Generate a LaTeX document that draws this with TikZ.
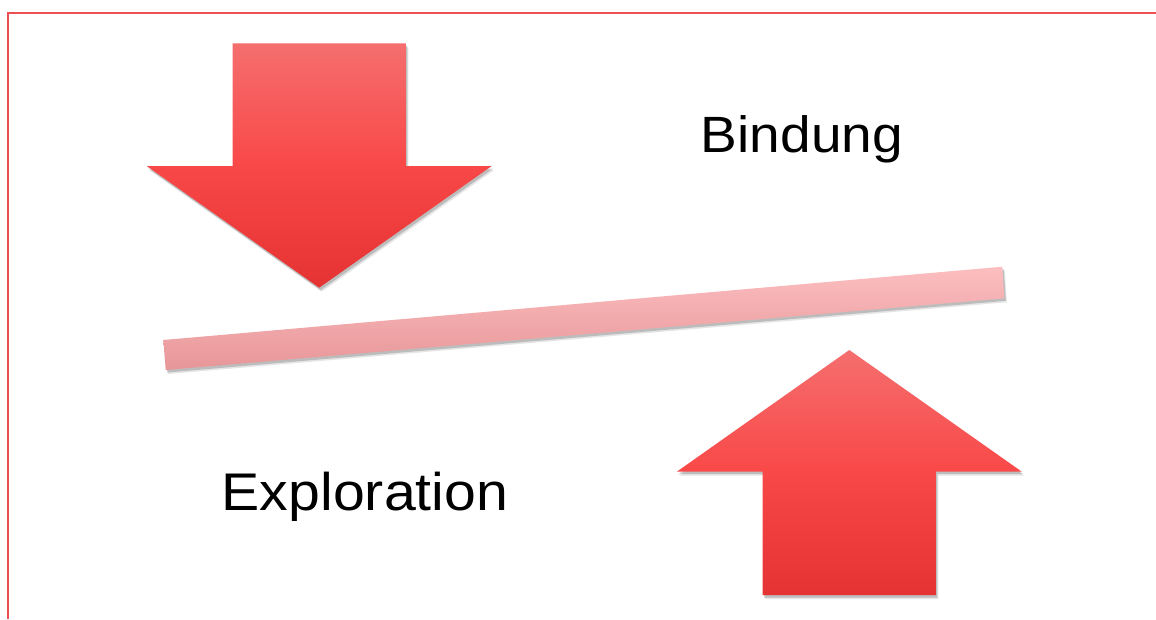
\documentclass[tikz,border=0pt]{standalone}
\usepackage{fontspec}
\newfontfamily\labelfont[FakeStretch=1.08]{Liberation Sans}
\usetikzlibrary{shadows}

\definecolor{framered}{RGB}{238,80,82}
\definecolor{arrowtop}{RGB}{245,110,110}
\definecolor{arrowmid}{RGB}{249,72,72}
\definecolor{arrowbot}{RGB}{229,50,50}
\definecolor{bartop}{RGB}{252,190,192}
\definecolor{barbot}{RGB}{231,150,152}

\tikzset{
  softshadow/.style={drop shadow={shadow xshift=1.5pt, shadow yshift=-2.5pt, opacity=.18, fill=black},
    drop shadow={shadow xshift=2.5pt, shadow yshift=-4pt, opacity=.1, fill=black}},
  bigarrow/.style={softshadow, top color=arrowtop, bottom color=arrowbot, middle color=arrowmid},
  beam/.style={softshadow, top color=bartop, bottom color=barbot},
  caption/.style={anchor=base, inner sep=0pt, text=black}
}

\begin{document}
\begin{tikzpicture}[x=1pt,y=-1pt]
  \useasboundingbox (0,0) rectangle (1156,619);

  % frame
  \draw[framered, line width=2.4pt] (8,619) -- (8,13) -- (1156,13);

  % the two arrows
  \foreach \cx/\tip/\base/\tail in {319.2/287.7/166/43.3, 849.3/350/471.7/595} {
    \path[bigarrow] (\cx,\tip) -- (\cx+172.5,\base) -- (\cx+86.6,\base) -- (\cx+86.6,\tail)
      -- (\cx-86.6,\tail) -- (\cx-86.6,\base) -- (\cx-172.5,\base) -- cycle;
  }

  % tilted bar
  \path[beam] (163.3,340) -- (1002.3,266.7) -- (1004.3,298.3) -- (165.7,370) -- cycle;

  \node[caption, font=\labelfont\fontsize{51}{51}\selectfont] (bindung) at (802,152) {Bindung};
  \node[caption, font=\labelfont\fontsize{53}{53}\selectfont] (exploration) at (365,510) {Exploration};
\end{tikzpicture}
\end{document}
